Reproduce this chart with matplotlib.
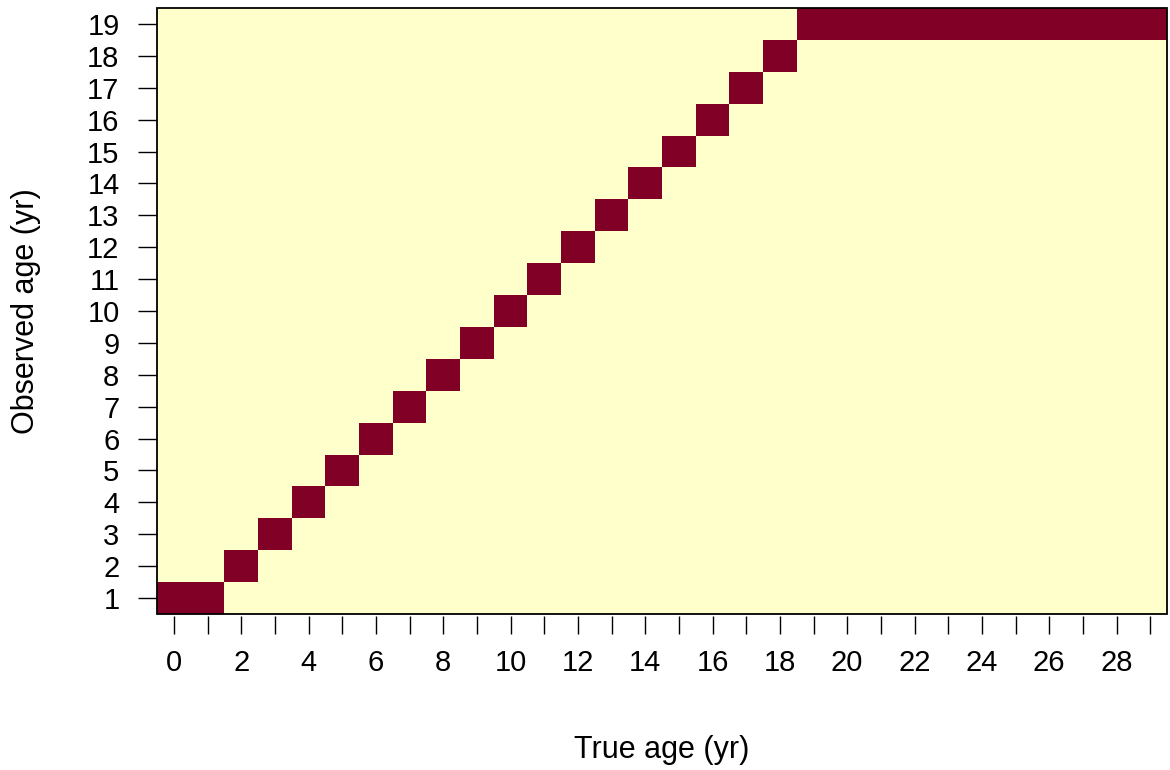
import numpy as np
import matplotlib.pyplot as plt
from matplotlib.colors import ListedColormap
from matplotlib.patches import Rectangle

plt.rcParams['font.family'] = ['Liberation Sans', 'DejaVu Sans']

true_age = list(range(0, 30))
observed_age = list(range(1, 20))
# observed age assigned to each true age
obs_for_true = [1, 1, 2, 3, 4, 5, 6, 7, 8, 9, 10, 11, 12, 13, 14, 15, 16, 17, 18,
                19, 19, 19, 19, 19, 19, 19, 19, 19, 19, 19]

mat = np.zeros((len(observed_age), len(true_age)))
for j, o in enumerate(obs_for_true):
    mat[observed_age.index(o), j] = 1

cmap = ListedColormap(['#FFFFCC', '#800026'])

fig = plt.figure(figsize=(11.7, 7.7), dpi=100)
ax = fig.add_axes([157/1170, 156/770, 1010/1170, 606/770])

x_edges = np.arange(len(true_age) + 1) - 0.5
y_edges = np.arange(len(observed_age) + 1) + 0.5
ax.pcolormesh(x_edges, y_edges, mat, cmap=cmap, vmin=0, vmax=1)
ax.set_xlim(-0.5, 29.5)
ax.set_ylim(0.5, 19.5)

for s in ax.spines.values():
    s.set_visible(False)
ax.spines['bottom'].set_position(('outward', 1.5))
ax.add_patch(Rectangle((0, 0), 1, 1, transform=ax.transAxes, fill=False,
                       lw=1.3, edgecolor='black', clip_on=False, zorder=5))

ax.set_xticks(true_age)
ax.set_xticklabels([str(t) if t % 2 == 0 else '' for t in true_age])
ax.set_yticks(observed_age)
ax.set_yticklabels([str(o) for o in observed_age])
ax.tick_params(axis='x', length=13, width=1, pad=11, labelsize=21)
ax.tick_params(axis='y', length=14, width=1, pad=13, labelsize=21)

fig.text(662/1170, 1 - 750/770, 'True age (yr)', ha='center', va='center', fontsize=22)
fig.text(26/1170, 1 - 311/770, 'Observed age (yr)', ha='center', va='center',
         rotation=90, fontsize=22)

fig.savefig('out.png', dpi=100)
